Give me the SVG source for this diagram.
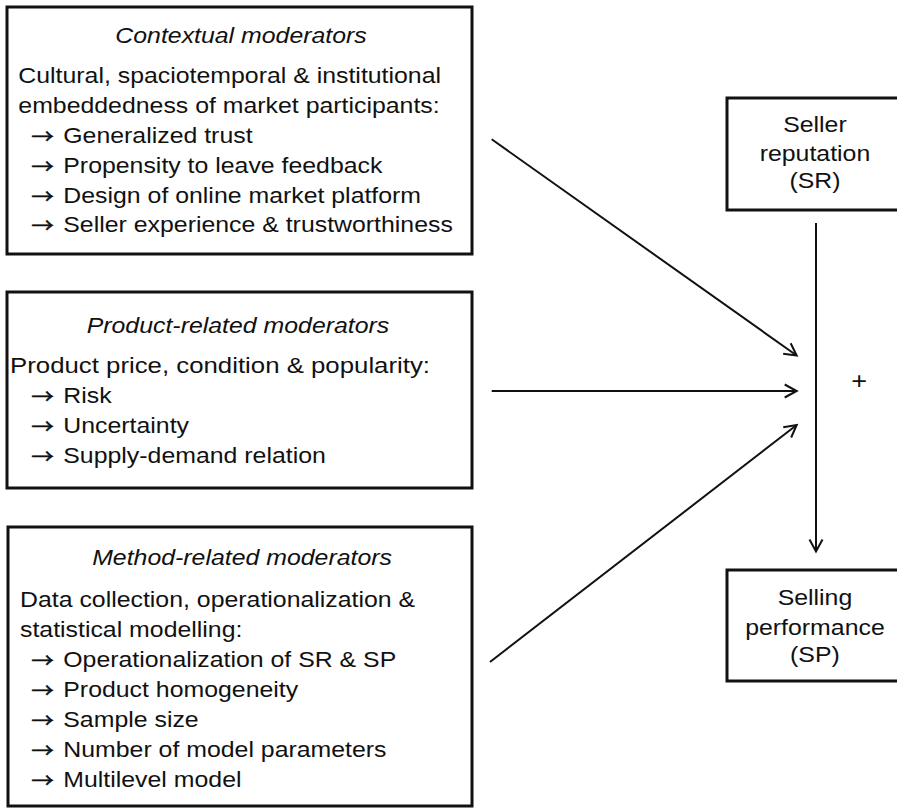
<svg xmlns="http://www.w3.org/2000/svg" width="897" height="809" viewBox="0 0 897 809">
<style>
.box{fill:#fff;stroke:#111;stroke-width:3}
.t{font-family:"Liberation Sans",Arial,sans-serif;font-size:22px;fill:#111}
.ti{font-style:italic;text-anchor:middle}
.c{text-anchor:middle}
.ar{font-family:"Noto Sans CJK JP","DejaVu Sans",sans-serif;font-size:20px;stroke:#111;stroke-width:0.5}
.con{stroke:#111;stroke-width:2;fill:none}
</style>
<defs>
<marker id="ah" markerUnits="userSpaceOnUse" markerWidth="20" markerHeight="20" viewBox="-14 -10 16 20" refX="0" refY="0" orient="auto">
<path d="M-12,-6.5 L0,0 L-12,6.5" fill="none" stroke="#111" stroke-width="2"/>
</marker>
</defs>
<rect width="897" height="809" fill="#fff"/>
<g id="contextual">
<rect class="box" x="7" y="7" width="465" height="247"/>
<g class="t" transform="scale(1.13,1)">
<text class="ti" x="213.3" y="43">Contextual moderators</text>
<text x="16.2" y="83.5">Cultural, spaciotemporal &amp; institutional</text>
<text x="16.2" y="113.3">embeddedness of market participants:</text>
<text x="56" y="143.1">Generalized trust</text>
<text x="56" y="172.9">Propensity to leave feedback</text>
<text x="56" y="202.7">Design of online market platform</text>
<text x="56" y="232.5">Seller experience &amp; trustworthiness</text>
<text class="ar" x="27.6" y="144.1">→</text>
<text class="ar" x="27.6" y="173.9">→</text>
<text class="ar" x="27.6" y="203.7">→</text>
<text class="ar" x="27.6" y="233.5">→</text>
</g>
</g>
<g id="product">
<rect class="box" x="7" y="292" width="465" height="196"/>
<g class="t" transform="scale(1.13,1)">
<text class="ti" x="210.6" y="333.3">Product-related moderators</text>
<text x="8.85" y="373.3" textLength="371.7" lengthAdjust="spacingAndGlyphs">Product price, condition &amp; popularity:</text>
<text x="56" y="403.3">Risk</text>
<text x="56" y="433.3">Uncertainty</text>
<text x="56" y="463.3">Supply-demand relation</text>
<text class="ar" x="27.6" y="404.3">→</text>
<text class="ar" x="27.6" y="434.3">→</text>
<text class="ar" x="27.6" y="464.3">→</text>
</g>
</g>
<g id="method">
<rect class="box" x="8" y="527" width="464" height="279"/>
<g class="t" transform="scale(1.13,1)">
<text class="ti" x="214.2" y="565">Method-related moderators</text>
<text x="17.7" y="606.7">Data collection, operationalization &amp;</text>
<text x="17.7" y="636.7">statistical modelling:</text>
<text x="56" y="666.7">Operationalization of SR &amp; SP</text>
<text x="56" y="696.7">Product homogeneity</text>
<text x="56" y="726.7">Sample size</text>
<text x="56" y="756.7">Number of model parameters</text>
<text x="56" y="786.7">Multilevel model</text>
<text class="ar" x="27.6" y="667.7">→</text>
<text class="ar" x="27.6" y="697.7">→</text>
<text class="ar" x="27.6" y="727.7">→</text>
<text class="ar" x="27.6" y="757.7">→</text>
<text class="ar" x="27.6" y="787.7">→</text>
</g>
</g>
<g id="sr">
<rect class="box" x="727" y="98" width="180" height="112"/>
<g class="t c" transform="scale(1.13,1)">
<text x="721.2" y="131.7">Seller</text>
<text x="721.2" y="161">reputation</text>
<text x="721.2" y="188.3">(SR)</text>
</g>
</g>
<g id="sp">
<rect class="box" x="727" y="570" width="180" height="111"/>
<g class="t c" transform="scale(1.13,1)">
<text x="721.2" y="605">Selling</text>
<text x="721.2" y="635">performance</text>
<text x="721.2" y="662.3">(SP)</text>
</g>
</g>
<g id="connectors">
<line class="con" x1="816" y1="223" x2="816" y2="551.5" marker-end="url(#ah)"/>
<line class="con" x1="491.7" y1="139.3" x2="796.7" y2="355.5" marker-end="url(#ah)"/>
<line class="con" x1="491.7" y1="391" x2="796.7" y2="391" marker-end="url(#ah)"/>
<line class="con" x1="490" y1="662" x2="796.7" y2="425" marker-end="url(#ah)"/>
<g class="t c" transform="scale(1.13,1)"><text x="760.4" y="389" style="font-size:24px">+</text></g>
</g>
</svg>
